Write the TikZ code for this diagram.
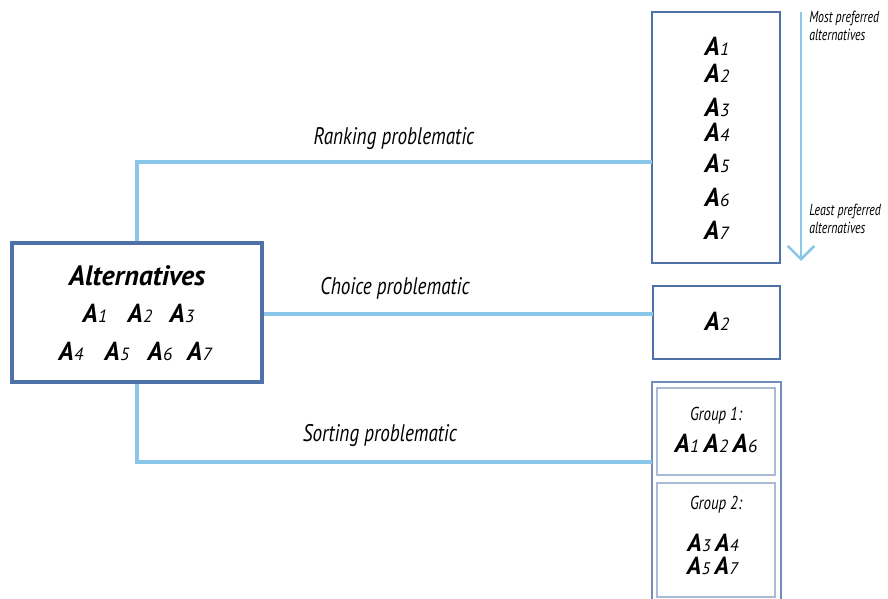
\documentclass[tikz,border=0pt]{standalone}
\usepackage{fontspec}
\setmainfont{PT Sans}
\newfontfamily\condfont{PT Sans}[FakeStretch=0.8]
\newfontfamily\notefont{PT Sans}[FakeStretch=0.74]
\usetikzlibrary{arrows.meta}

\definecolor{linkblue}{RGB}{138,198,234}
\definecolor{boxblue}{RGB}{78,114,168}
\definecolor{groupblue}{RGB}{170,186,212}

% alternative symbol: bold italic A with a small index on the baseline
\newcommand{\alt}[1]{\textbf{\textit{A}}\kern0.3pt\scalebox{0.68}{\textit{#1}}}

\tikzset{
  link/.style={draw=linkblue, line width=2.7pt},
  mainbox/.style={draw=boxblue, line width=3pt, fill=white, inner sep=0pt},
  outbox/.style={draw=boxblue, line width=2.1pt, fill=white, inner sep=0pt},
  sortbox/.style={draw=boxblue!80!white, line width=1.7pt, fill=white, inner sep=0pt},
  groupbox/.style={draw=groupblue, line width=1.6pt, fill=white, inner sep=0pt},
  label/.style={font=\condfont\itshape\fontsize{18}{20}\selectfont, inner sep=0pt},
  note/.style={font=\notefont\itshape\fontsize{12}{13}\selectfont, inner sep=0pt, anchor=west, align=left},
  altlab/.style={font=\fontsize{19.5}{22}\selectfont, inner sep=0pt},
  grouplab/.style={font=\condfont\itshape\fontsize{14}{16}\selectfont, inner sep=0pt},
}

\begin{document}
\begin{tikzpicture}[x=0.75pt, y=-0.75pt]
\useasboundingbox (0,0) rectangle (888,599);
\clip (0,0) rectangle (888,599);

% connection points on the result boxes
\coordinate (rankin) at (652,162);
\coordinate (choicein) at (653,314);
\coordinate (sortin) at (652,462);

% boxes
\node[mainbox, minimum width=187.5pt, minimum height=104.25pt] (main) at (137,312.5) {};
\node[outbox, minimum width=96pt, minimum height=188.25pt] (rank) at (716,137.5) {};
\node[outbox, minimum width=95.25pt, minimum height=54.75pt] (choice) at (716.5,322.5) {};
\node[sortbox, minimum width=96.75pt, minimum height=168pt] (sort) at (716.5,494) {};
\node[groupbox, minimum width=88.5pt, minimum height=65.25pt] (g1) at (716,431.5) {};
\node[groupbox, minimum width=88.5pt, minimum height=85.5pt] (g2) at (716,540) {};

% connectors
\draw[link] (main.north) |- (rankin);
\draw[link] (main.east |- choicein) -- (choicein);
\draw[link] (main.south) |- (sortin);

% redraw the main box on top of the connector ends
\node[mainbox, minimum width=187.5pt, minimum height=104.25pt] at (main) {};

% connector labels
\node[label] (lrank) at (394,139) {Ranking problematic};
\node[label] (lchoice) at (395,288) {Choice problematic};
\node[label] (lsort) at (380,435) {Sorting problematic};

% alternatives
\node[font=\bfseries\itshape\fontsize{21}{24}\selectfont, inner sep=0pt] (title) at (137,276) {Alternatives};
\node[altlab] (m1) at (95,313) {\alt{1}};
\node[altlab] (m2) at (140,313) {\alt{2}};
\node[altlab] (m3) at (182,313) {\alt{3}};
\node[altlab] (m4) at (71,351) {\alt{4}};
\node[altlab] (m5) at (117,351) {\alt{5}};
\node[altlab] (m6) at (160,351) {\alt{6}};
\node[altlab] (m7) at (200,351) {\alt{7}};

% ranking
\node[altlab] (r1) at (717,46) {\alt{1}};
\node[altlab] (r2) at (717,73) {\alt{2}};
\node[altlab] (r3) at (717,107) {\alt{3}};
\node[altlab] (r4) at (717,132) {\alt{4}};
\node[altlab] (r5) at (717,163) {\alt{5}};
\node[altlab] (r6) at (717,197) {\alt{6}};
\node[altlab] (r7) at (717,230) {\alt{7}};

% preference direction
\coordinate (top) at (801,12);
\coordinate (bottom) at (801,261);
\draw[draw=linkblue, line width=1.9pt, -{Straight Barb[length=10pt, width=20pt, line width=1.9pt]}] (top) -- (bottom);
\node[note] (most) at (809,26) {Most preferred\\alternatives};
\node[note] (least) at (809,219) {Least preferred\\alternatives};

% choice
\node[altlab] (c2) at (717,321) {\alt{2}};

% sorting
\node[grouplab] (g1t) at (716,416) {Group 1:};
\node[altlab] (g1a) at (716,443) {\alt{1}\,\alt{2}\,\alt{6}};
\node[grouplab] (g2t) at (716,505) {Group 2:};
\node[altlab, font=\fontsize{18.5}{20}\selectfont] (g2a) at (713,543) {\alt{3}\,\alt{4}};
\node[altlab, font=\fontsize{18.5}{20}\selectfont] (g2b) at (713,566) {\alt{5}\,\alt{7}};
\end{tikzpicture}
\end{document}
